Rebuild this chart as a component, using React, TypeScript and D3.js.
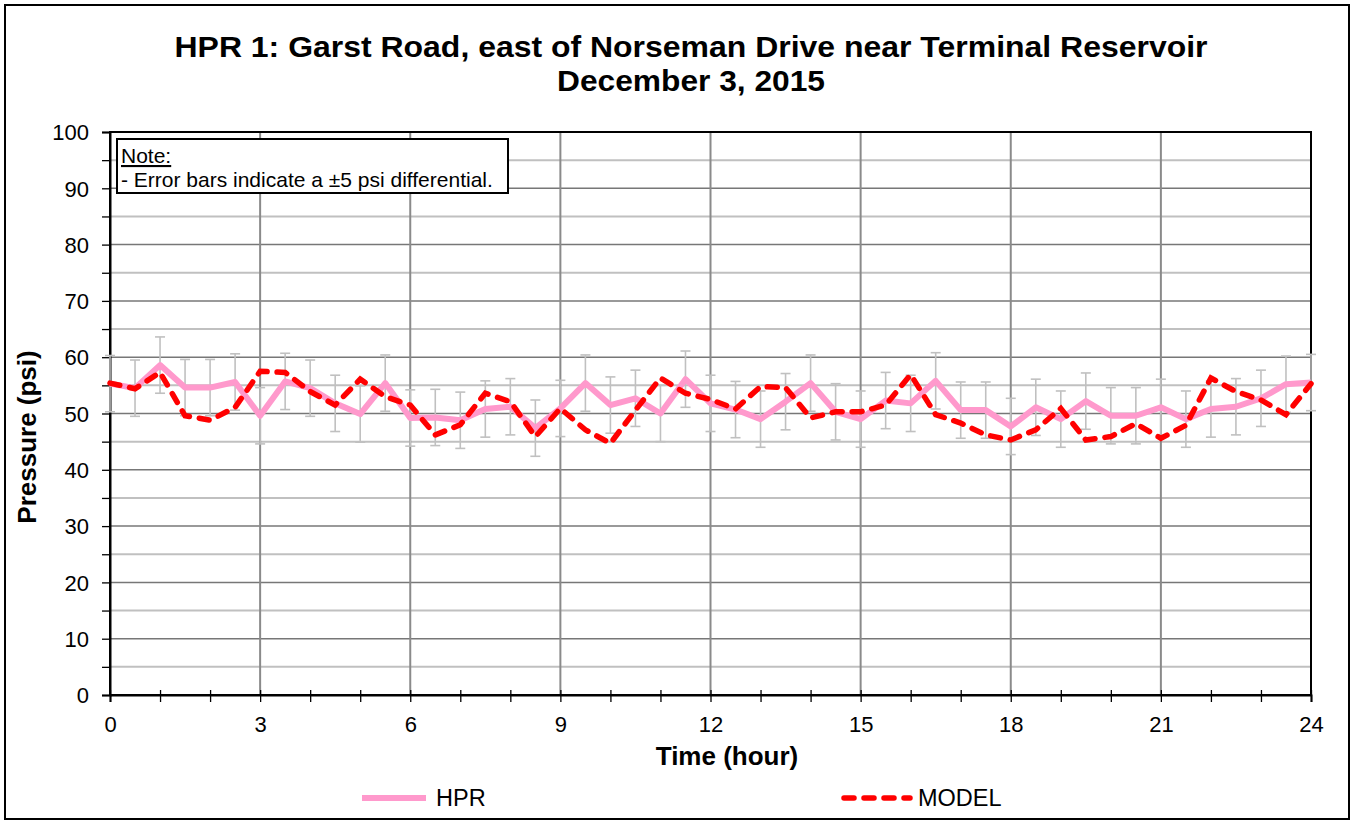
import React, { useEffect, useRef } from 'react';
import * as d3 from 'd3';

const hours = [
  0, 0.5, 1, 1.5, 2, 2.5, 3, 3.5, 4, 4.5, 5, 5.5, 6, 6.5, 7, 7.5, 8, 8.5, 9, 9.5, 10, 10.5, 11, 11.5,
  12, 12.5, 13, 13.5, 14, 14.5, 15, 15.5, 16, 16.5, 17, 17.5, 18, 18.5, 19, 19.5, 20, 20.5, 21, 21.5,
  22, 22.5, 23, 23.5, 24,
];
const hpr = [
  55.3, 54.5, 58.6, 54.6, 54.6, 55.6, 49.6, 55.7, 54.5, 51.8, 49.9, 55.4, 49.2,
  49.3, 48.8, 50.8, 51.2, 47.4, 50.9, 55.4, 51.5, 52.7, 50.0, 56.1, 51.8,
  50.7, 49.0, 52.1, 55.4, 50.3, 49.0, 52.3, 51.8, 55.8, 50.6, 50.6, 47.7,
  51.1, 49.0, 52.2, 49.6, 49.6, 51.1, 49.0, 50.8, 51.2, 52.7, 55.2, 55.5,
];
const model = [
  55.4, 54.4, 57.3, 49.6, 48.8, 51.1, 57.5, 57.3, 53.9, 51.5, 56.1, 53.0, 51.5,
  46.2, 48.0, 53.6, 52.1, 45.9, 50.9, 47.1, 44.7, 50.6, 56.3, 53.6, 52.5,
  50.8, 54.8, 54.6, 49.2, 50.3, 50.3, 51.5, 56.9, 49.8, 48.3, 46.2, 45.3,
  47.1, 50.9, 45.3, 45.9, 48.2, 45.6, 47.9, 56.3, 53.9, 52.4, 49.8, 55.3,
];
const errorPsi = 5;
const xTicks = [0, 3, 6, 9, 12, 15, 18, 21, 24];
const yTicks = [0, 10, 20, 30, 40, 50, 60, 70, 80, 90, 100];
const titleLines = ['HPR 1: Garst Road, east of Norseman Drive near Terminal Reservoir', 'December 3, 2015'];
const titleWidths = [1033, 268];

const FONT = "'Liberation Sans', Arial, sans-serif";

const App = () => {
  const svgRef = useRef(null);

  useEffect(() => {
    const W = 1352;
    const H = 821;
    const plot = { left: 110, right: 1311, top: 132, bottom: 695 };

    const svg = d3.select(svgRef.current).attr('width', W).attr('height', H);
    svg.selectAll('*').remove();

    svg.append('rect').attr('width', W).attr('height', H).attr('fill', '#fff');
    // outer chart border
    svg.append('rect')
      .attr('x', 5).attr('y', 5).attr('width', 1344).attr('height', 814)
      .attr('fill', 'none').attr('stroke', '#000').attr('stroke-width', 2);

    const x = d3.scaleLinear().domain([0, 24]).range([plot.left, plot.right]);
    const y = d3.scaleLinear().domain([0, 100]).range([plot.bottom, plot.top]);

    // horizontal grid: light at 5s, darker at 10s
    const g = svg.append('g');
    g.selectAll('.hminor')
      .data(d3.range(5, 100, 10))
      .enter().append('line')
      .attr('x1', plot.left).attr('x2', plot.right)
      .attr('y1', d => y(d)).attr('y2', d => y(d))
      .attr('stroke', '#c0c0c0').attr('stroke-width', 2);
    g.selectAll('.hmajor')
      .data(yTicks.slice(1, -1))
      .enter().append('line')
      .attr('x1', plot.left).attr('x2', plot.right)
      .attr('y1', d => y(d)).attr('y2', d => y(d))
      .attr('stroke', '#777').attr('stroke-width', 1.5);
    g.selectAll('.vgrid')
      .data(xTicks.slice(1, -1))
      .enter().append('line')
      .attr('x1', d => x(d)).attr('x2', d => x(d))
      .attr('y1', plot.top).attr('y2', plot.bottom)
      .attr('stroke', '#8a8a8a').attr('stroke-width', 2);

    // plot frame
    svg.append('rect')
      .attr('x', plot.left).attr('y', plot.top)
      .attr('width', plot.right - plot.left).attr('height', plot.bottom - plot.top)
      .attr('fill', 'none').attr('stroke', '#000').attr('stroke-width', 2);

    // y axis ticks & labels
    const yAxis = svg.append('g').attr('transform', `translate(${plot.left},0)`)
      .call(d3.axisLeft(y).tickValues(d3.range(0, 101, 5)).tickSize(8).tickFormat(d => (d % 10 === 0 ? String(d) : '')));
    yAxis.select('.domain').attr('stroke', '#000').attr('stroke-width', 2);
    yAxis.selectAll('.tick line').attr('stroke', '#000').attr('stroke-width', 1.3);
    yAxis.selectAll('.tick text')
      .attr('x', -21).attr('dy', '0.35em')
      .style('font-family', FONT).style('font-size', '22px').attr('fill', '#000');

    // x axis ticks & labels
    const xAxis = svg.append('g').attr('transform', `translate(0,${plot.bottom})`)
      .call(d3.axisBottom(x).tickValues(d3.range(0, 25, 1)).tickSize(7).tickFormat(d => (xTicks.includes(d) ? String(d) : '')));
    xAxis.select('.domain').attr('stroke', '#000').attr('stroke-width', 2);
    xAxis.selectAll('.tick line').attr('y1', -5).attr('stroke', '#000').attr('stroke-width', 1.3);
    xAxis.selectAll('.tick text')
      .attr('y', 37).attr('dy', 0)
      .style('font-family', FONT).style('font-size', '22px').attr('fill', '#000');

    // error bars on HPR
    const eb = svg.append('g').attr('stroke', '#c0c0c0').attr('stroke-width', 1.6);
    hpr.forEach((v, i) => {
      const cx = x(hours[i]);
      const y1 = y(v + errorPsi);
      const y0 = y(v - errorPsi);
      eb.append('line').attr('x1', cx).attr('x2', cx).attr('y1', y1).attr('y2', y0);
      eb.append('line').attr('x1', cx - 5).attr('x2', cx + 5).attr('y1', y1).attr('y2', y1);
      eb.append('line').attr('x1', cx - 5).attr('x2', cx + 5).attr('y1', y0).attr('y2', y0);
    });

    const line = d3.line()
      .x((d, i) => x(hours[i]))
      .y(d => y(d));

    svg.append('path')
      .datum(hpr)
      .attr('fill', 'none')
      .attr('stroke', '#ff99cc')
      .attr('stroke-width', 6)
      .attr('stroke-linejoin', 'round')
      .attr('d', line);

    svg.append('path')
      .datum(model)
      .attr('fill', 'none')
      .attr('stroke', '#ff0000')
      .attr('stroke-width', 5.5)
      .attr('stroke-linecap', 'round')
      .attr('stroke-dasharray', '10,10')
      .attr('d', line);

    // note box
    svg.append('rect')
      .attr('x', 117).attr('y', 139).attr('width', 391).attr('height', 54)
      .attr('fill', '#fff').attr('stroke', '#000').attr('stroke-width', 2);
    svg.append('text')
      .attr('x', 121).attr('y', 163)
      .style('font-family', FONT).style('font-size', '21px').style('text-decoration', 'underline')
      .text('Note:');
    svg.append('text')
      .attr('x', 121).attr('y', 187)
      .style('font-family', FONT).style('font-size', '21px')
      .text('- Error bars indicate a ±5 psi differential.');

    // title
    svg.selectAll('.title')
      .data(titleLines)
      .enter().append('text')
      .attr('x', (d, i) => 691 - titleWidths[i] / 2)
      .attr('y', (d, i) => 57 + i * 34)
      .attr('textLength', (d, i) => titleWidths[i])
      .attr('lengthAdjust', 'spacingAndGlyphs')
      .style('font-family', FONT).style('font-size', '29px').style('font-weight', 'bold')
      .text(d => d);

    // axis titles
    svg.append('text')
      .attr('transform', 'translate(36,437) rotate(-90)')
      .attr('text-anchor', 'middle')
      .style('font-family', FONT).style('font-size', '26px').style('font-weight', 'bold')
      .text('Pressure (psi)');
    svg.append('text')
      .attr('x', 727).attr('y', 765)
      .attr('text-anchor', 'middle')
      .style('font-family', FONT).style('font-size', '26px').style('font-weight', 'bold')
      .text('Time (hour)');

    // legend
    const lg = svg.append('g');
    lg.append('line')
      .attr('x1', 362).attr('x2', 426).attr('y1', 798).attr('y2', 798)
      .attr('stroke', '#ff99cc').attr('stroke-width', 6);
    lg.append('text')
      .attr('x', 436).attr('y', 806)
      .style('font-family', FONT).style('font-size', '23.5px')
      .text('HPR');
    lg.append('line')
      .attr('x1', 844).attr('x2', 910).attr('y1', 798).attr('y2', 798)
      .attr('stroke', '#ff0000').attr('stroke-width', 5.5)
      .attr('stroke-linecap', 'round').attr('stroke-dasharray', '10,10');
    lg.append('text')
      .attr('x', 918).attr('y', 806)
      .style('font-family', FONT).style('font-size', '23.5px')
      .text('MODEL');
  }, []);

  return (
    <svg ref={svgRef} style={{ position: 'absolute', left: 0, top: 0 }}></svg>
  );
};

export default App;
